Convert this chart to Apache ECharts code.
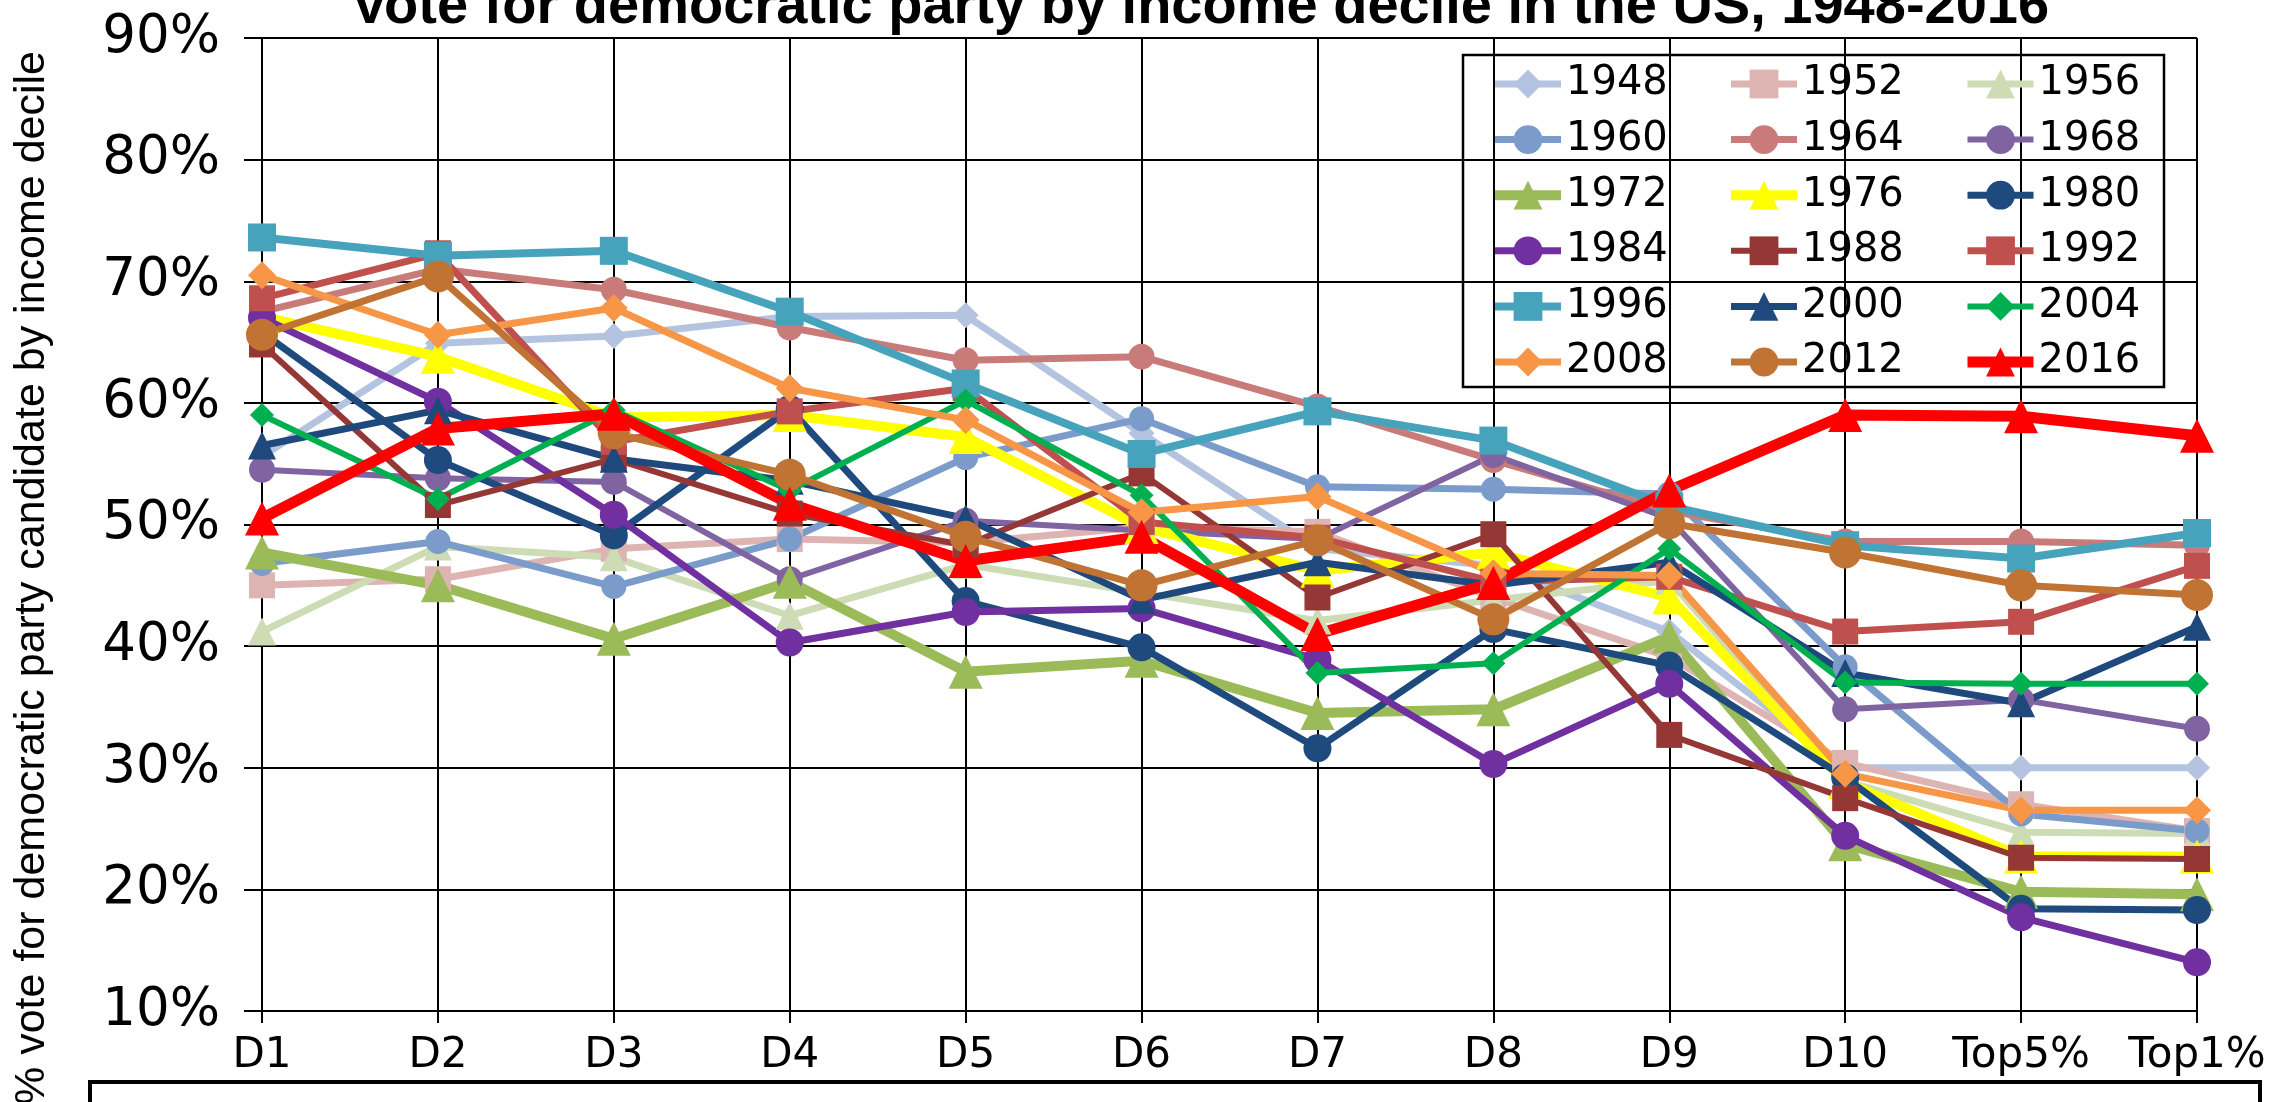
<!DOCTYPE html>
<html>
<head>
<meta charset="utf-8">
<script src="https://cdn.jsdelivr.net/npm/echarts@6/dist/echarts.min.js"></script>
<style>
  html, body { margin: 0; padding: 0; background: #fff; }
  #chart { width: 2272px; height: 1102px; }
</style>
</head>
<body>
<div id="chart"></div>
<script>
// Income groups, lowest decile to top 1%
const categories = ['D1', 'D2', 'D3', 'D4', 'D5', 'D6', 'D7', 'D8', 'D9', 'D10', 'Top5%', 'Top1%'];

// Democratic vote share (%) by income group, one array per election year
const v1948 = [55.6, 64.9, 65.5, 67.1, 67.2, 57.5, 48.0, 46.6, 41.2, 30.0, 30.0, 30.0];
const v1952 = [45.0, 45.5, 48.0, 48.8, 48.5, 49.8, 49.4, 44.0, 39.1, 30.4, 27.0, 24.8];
const v1956 = [41.2, 48.2, 47.3, 42.5, 46.7, 44.4, 42.1, 43.8, 45.4, 28.9, 24.7, 24.6];
const v1960 = [46.8, 48.6, 44.9, 48.8, 55.5, 58.7, 53.1, 52.9, 52.5, 38.3, 26.2, 24.8];
const v1964 = [67.5, 71.0, 69.3, 66.2, 63.5, 63.8, 59.7, 55.3, 51.1, 48.6, 48.6, 48.3];
const v1968 = [54.5, 53.8, 53.5, 45.5, 50.3, 49.5, 48.8, 55.7, 50.5, 34.8, 35.6, 33.2];
const v1972 = [47.7, 45.0, 40.6, 45.3, 37.9, 38.8, 34.5, 34.8, 40.8, 23.7, 19.8, 19.6];
const v1976 = [67.1, 63.8, 58.8, 59.0, 57.2, 49.8, 46.2, 47.7, 44.0, 28.8, 22.7, 22.7];
const v1980 = [65.8, 55.3, 49.1, 59.5, 43.7, 39.9, 31.6, 41.4, 38.4, 29.2, 18.4, 18.3];
const v1984 = [67.0, 60.1, 50.8, 40.3, 42.8, 43.1, 38.9, 30.3, 36.9, 24.4, 17.7, 14.0];
const v1988 = [64.8, 51.6, 55.4, 50.9, 48.3, 54.2, 44.0, 49.2, 32.7, 27.5, 22.6, 22.5];
const v1992 = [68.6, 72.3, 56.8, 59.3, 61.2, 50.2, 48.9, 45.3, 45.7, 41.2, 42.0, 46.6];
const v1996 = [73.6, 72.1, 72.5, 67.5, 61.6, 55.8, 59.3, 56.9, 51.5, 48.3, 47.2, 49.3];
const v2000 = [56.5, 59.4, 55.4, 53.6, 50.5, 43.8, 46.9, 45.0, 46.9, 37.8, 35.3, 41.6];
const v2004 = [59.0, 52.1, 59.4, 52.8, 60.2, 52.4, 37.8, 38.6, 48.0, 37.0, 36.9, 36.9];
const v2008 = [70.5, 65.6, 67.8, 61.2, 58.6, 51.0, 52.3, 46.0, 45.8, 29.5, 26.5, 26.5];
const v2012 = [65.6, 70.4, 57.5, 54.1, 49.0, 45.0, 48.7, 42.2, 50.1, 47.7, 45.0, 44.2];
const v2016 = [50.5, 57.9, 59.1, 51.7, 47.0, 49.0, 41.0, 45.2, 52.8, 59.0, 58.9, 57.3];

const yearNames = ['1948', '1952', '1956', '1960', '1964', '1968', '1972', '1976', '1980',
                   '1984', '1988', '1992', '1996', '2000', '2004', '2008', '2012', '2016'];
const yearValues = [v1948, v1952, v1956, v1960, v1964, v1968, v1972, v1976, v1980,
                    v1984, v1988, v1992, v1996, v2000, v2004, v2008, v2012, v2016];

// y-axis tick values (percent)
const yTicks = { min: 10, max: 90, step: 10 };

// Per-year line look: colour, marker, marker size, line width
const looks = {
  '1948': ['#B4C4E0', 'diamond', 26, 7],
  '1952': ['#DEB4B3', 'rect', 26, 7],
  '1956': ['#CDDCB5', 'triangle', 28, 7],
  '1960': ['#7B9CCB', 'circle', 25, 7],
  '1964': ['#C97B7A', 'circle', 26, 7],
  '1968': ['#8064A2', 'circle', 26, 6],
  '1972': ['#9BBB59', 'triangle', 34, 10],
  '1976': ['#FFFF00', 'triangle', 34, 10],
  '1980': ['#1F4A7E', 'circle', 28, 7],
  '1984': ['#7030A0', 'circle', 28, 7],
  '1988': ['#953735', 'rect', 26, 6],
  '1992': ['#C0504D', 'rect', 26, 7],
  '1996': ['#47A3BC', 'rect', 28, 8],
  '2000': ['#1F497D', 'triangle', 28, 7],
  '2004': ['#00B050', 'diamond', 24, 6],
  '2008': ['#F79646', 'diamond', 28, 7],
  '2012': ['#C07332', 'circle', 32, 7],
  '2016': ['#FF0000', 'triangle', 34, 11]
};

const series = yearNames.map((name, i) => {
  const [color, symbol, size, width] = looks[name];
  return {
    name: name,
    type: 'line',
    data: yearValues[i],
    symbol: symbol,
    symbolSize: size,
    showAllSymbol: true,
    lineStyle: { color: color, width: width },
    itemStyle: { color: color },
    emphasis: { disabled: true }
  };
});

// Legend: three columns of six rows
const legendFont = { fontFamily: 'DejaVu Sans', fontSize: 40, color: '#000', lineHeight: 40 };
const legendCols = [0, 1, 2].map(c => ({
  orient: 'vertical',
  left: 1490 + c * 236,
  top: 64,
  padding: 0,
  itemWidth: 66,
  itemHeight: 36,
  itemGap: 15.6,
  selectedMode: false,
  lineStyle: { width: 'inherit' },
  textStyle: legendFont,
  data: yearNames.filter((_, i) => i % 3 === c)
}));

const chart = echarts.init(document.getElementById('chart'), null, { renderer: 'canvas' });
chart.setOption({
  animation: false,
  backgroundColor: '#fff',
  grid: { left: 262, right: 75, top: 38, bottom: 91, containLabel: false },
  legend: legendCols,
  xAxis: {
    type: 'category',
    data: categories,
    boundaryGap: false,
    axisLine: { lineStyle: { color: '#000', width: 2 } },
    axisTick: { show: true, interval: 0, length: 12, lineStyle: { color: '#000', width: 2 } },
    splitLine: { show: true, interval: 0, lineStyle: { color: '#000', width: 2 } },
    axisLabel: { interval: 0, hideOverlap: false, fontFamily: 'DejaVu Sans', fontSize: 42, color: '#000', margin: 24 }
  },
  yAxis: {
    type: 'value',
    min: yTicks.min,
    max: yTicks.max,
    interval: yTicks.step,
    axisLine: { show: true, lineStyle: { color: '#000', width: 2 } },
    axisTick: { show: true, length: 18, lineStyle: { color: '#000', width: 2 } },
    splitLine: { show: true, lineStyle: { color: '#000', width: 2 } },
    axisLabel: { formatter: '{value}%', fontFamily: 'DejaVu Sans', fontSize: 53, color: '#000', margin: 42 }
  },
  graphic: [
    {
      type: 'text', x: 1200, y: 8,
      style: {
        text: 'Vote for democratic party by income decile in the US, 1948-2016',
        font: 'bold 56px "Liberation Sans", Arial, sans-serif',
        fill: '#000', align: 'center', verticalAlign: 'middle'
      }
    },
    {
      type: 'text', x: 32, y: 578, rotation: Math.PI / 2,
      style: {
        text: '% vote for democratic party candidate by income decile',
        font: '43px "Liberation Sans", Arial, sans-serif',
        fill: '#000', align: 'center', verticalAlign: 'middle'
      }
    },
    {
      type: 'rect', shape: { x: 1463, y: 55, width: 701, height: 332 },
      style: { fill: 'rgba(255,255,255,0)', stroke: '#000', lineWidth: 2.5 }, z: 10
    },
    {
      type: 'rect', shape: { x: 90, y: 1082, width: 2170, height: 120 },
      style: { fill: 'none', stroke: '#000', lineWidth: 4 }
    }
  ],
  series: series
});
</script>
</body>
</html>
